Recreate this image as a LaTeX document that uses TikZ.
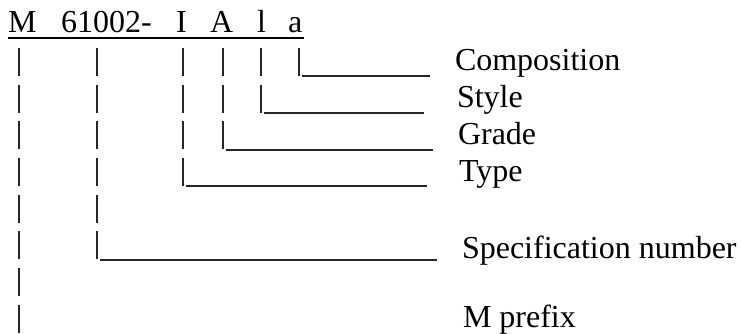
\documentclass[tikz,border=0pt]{standalone}
\usepackage{fontspec}
\setmainfont{Liberation Serif}
\begin{document}
\begin{tikzpicture}[x=0.75pt,y=-0.75pt,
  txt/.style={anchor=base west,inner sep=0pt,outer sep=0pt,font=\fontsize{24}{28}\selectfont},
  pipe/.style={line width=1.3pt,black!85,dash pattern=on 21pt off 6.5pt},
  bar/.style={line width=1.3pt,black!85},
  uline/.style={line width=1pt}]
\useasboundingbox (0,0) rectangle (741,333);
% code letters
\node[txt] (cM) at (8,32) {M};
\node[txt] (cnum) at (61,32) {61002-};
\node[txt] (cI) at (176,32) {I};
\node[txt] (cA) at (210,32) {A};
\node[txt] (cl) at (257,32) {l};
\node[txt] (ca) at (288,32) {a};
\coordinate (ulL) at (8,38);
\coordinate (ulR) at (304,38);
\draw[uline] (ulL) -- (ulR);
% labels
\node[txt] (lcomp) at (455,70) {Composition};
\node[txt] (lstyle) at (457,107) {Style};
\node[txt] (lgrade) at (458,144) {Grade};
\node[txt] (ltype) at (459,181) {Type};
\node[txt] (lspec) at (462,258) {Specification number};
\node[txt] (lpre) at (463,327) {M prefix};
% pipe tops and corners
\coordinate (p1t) at (19,48);  \coordinate (p1b) at (19,333);
\coordinate (p2t) at (97,48);  \coordinate (p2b) at (97,260);
\coordinate (p3t) at (183,48); \coordinate (p3b) at (183,186);
\coordinate (p4t) at (223,48); \coordinate (p4b) at (223,150);
\coordinate (p5t) at (261,48); \coordinate (p5b) at (261,113);
\coordinate (p6t) at (299,48); \coordinate (p6b) at (299,76);
\coordinate (e6) at (430,76);
\coordinate (e5) at (424,113);
\coordinate (e4) at (433,150);
\coordinate (e3) at (427,186);
\coordinate (e2) at (437,260);
\draw[pipe] (p1t) -- (p1b);
\draw[pipe] (p2t) -- (p2b);
\draw[pipe] (p3t) -- (p3b);
\draw[pipe] (p4t) -- (p4b);
\draw[pipe] (p5t) -- (p5b);
\draw[pipe] (p6t) -- (p6b);
\draw[bar] ([xshift=2pt]p6b) -- (e6);
\draw[bar] ([xshift=2pt]p5b) -- (e5);
\draw[bar] ([xshift=2pt]p4b) -- (e4);
\draw[bar] ([xshift=2pt]p3b) -- (e3);
\draw[bar] ([xshift=2pt]p2b) -- (e2);
\end{tikzpicture}
\end{document}
